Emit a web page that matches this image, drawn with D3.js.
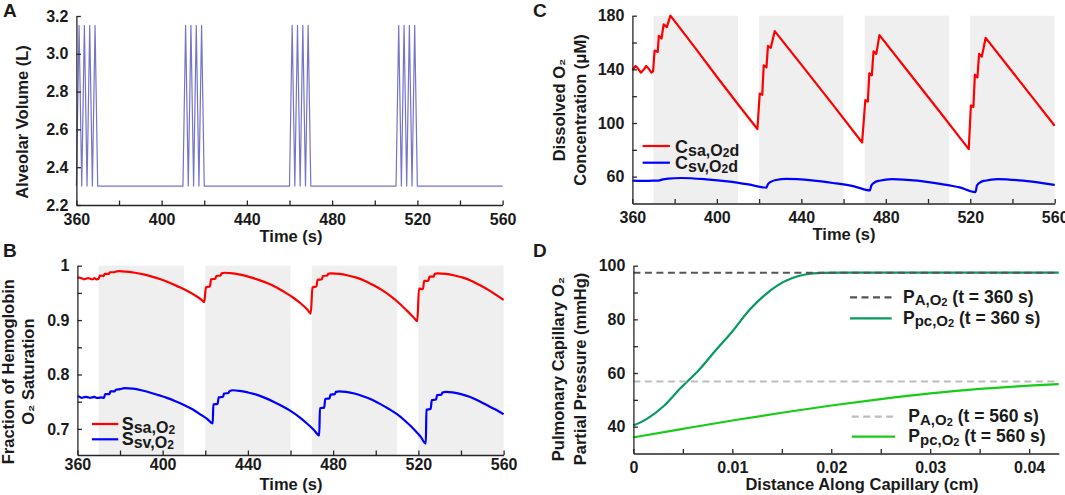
<!DOCTYPE html>
<html>
<head>
<meta charset="utf-8">
<script src="https://cdn.jsdelivr.net/npm/d3@7"></script>
<style>
  body { margin: 0; background: #fff; }
  text { font-family: "Liberation Sans", Arial, sans-serif; font-weight: bold; fill: #1a1a1a; }
</style>
</head>
<body>
<svg id="fig" width="1065" height="495"></svg>
<script>
// ---- data ----
var shadeStart = [370, 420, 470, 520],
    shadeEnd = [410, 460, 510, 560];

// A: alveolar volume (L)
var volTime = [360, 361.25, 362.5, 363.75, 365, 366.25, 367.5, 368.75, 370,
    410, 411.25, 412.5, 413.75, 415, 416.25, 417.5, 418.75, 420,
    460, 461.25, 462.5, 463.75, 465, 466.25, 467.5, 468.75, 470,
    510, 511.25, 512.5, 513.75, 515, 516.25, 517.5, 518.75, 520, 560];
var volValue = [2.3, 3.15, 2.3, 3.15, 2.3, 3.15, 2.3, 3.15, 2.3,
    2.3, 3.15, 2.3, 3.15, 2.3, 3.15, 2.3, 3.15, 2.3,
    2.3, 3.15, 2.3, 3.15, 2.3, 3.15, 2.3, 3.15, 2.3,
    2.3, 3.15, 2.3, 3.15, 2.3, 3.15, 2.3, 3.15, 2.3, 2.3];

// B: hemoglobin O2 saturation, arterial (sa) and venous (sv)
var saTime = [360, 361, 362, 363, 364, 365, 366, 367, 368, 369, 370,
    370.5, 372.3, 372.8, 374.8, 375.3, 377.3, 377.8, 379.5,
    383, 387, 391, 395, 399, 403, 407, 411, 415, 418, 419.5,
    420.3, 422.2, 422.7, 424.7, 425.2, 427.2, 427.7, 429,
    433, 437, 441, 445, 449, 453, 457, 461, 465, 468, 469.5,
    470.3, 472.2, 472.7, 474.7, 475.2, 477.2, 477.7, 479,
    483, 487, 491, 495, 499, 503, 507, 511, 515, 518, 519.5,
    520.3, 522.2, 522.7, 524.7, 525.2, 527.2, 527.7, 529,
    533, 537, 541, 545, 549, 553, 557, 560];
var saValue = [0.978, 0.978, 0.977, 0.975, 0.976, 0.977, 0.976, 0.975, 0.977, 0.975, 0.976,
    0.982, 0.981, 0.985, 0.985, 0.988, 0.988, 0.989, 0.990,
    0.989, 0.987, 0.984, 0.980, 0.975, 0.969, 0.962, 0.955, 0.946, 0.938, 0.933,
    0.960, 0.962, 0.975, 0.976, 0.981, 0.982, 0.986, 0.987,
    0.986, 0.983, 0.979, 0.974, 0.968, 0.961, 0.952, 0.942, 0.930, 0.919, 0.912,
    0.960, 0.962, 0.974, 0.975, 0.981, 0.982, 0.985, 0.986,
    0.985, 0.982, 0.978, 0.972, 0.964, 0.955, 0.944, 0.931, 0.916, 0.904, 0.898,
    0.958, 0.957, 0.972, 0.972, 0.980, 0.980, 0.985, 0.986,
    0.985, 0.982, 0.978, 0.972, 0.964, 0.955, 0.945, 0.937];
var svTime = [360, 361, 362, 363, 364, 365, 366, 367, 368, 369, 370, 371, 372.5,
    373, 375, 375.5, 377.5, 378, 380, 382,
    386, 390, 394, 398, 402, 406, 410, 414, 418, 421, 423.5,
    423.8, 425.8, 426.3, 428.3, 428.8, 430.8, 431.3, 433,
    436, 440, 444, 448, 452, 456, 460, 464, 468, 471, 473.5,
    473.8, 475.8, 476.3, 478.3, 478.8, 480.8, 481.3, 483,
    486, 490, 494, 498, 502, 506, 510, 514, 518, 521, 523.5,
    523.8, 525.8, 526.3, 528.3, 528.8, 530.8, 531.3, 533,
    536, 540, 544, 548, 552, 556, 560];
var svValue = [0.760, 0.759, 0.757, 0.758, 0.759, 0.758, 0.757, 0.758, 0.759, 0.757, 0.757, 0.758, 0.757,
    0.764, 0.764, 0.769, 0.769, 0.772, 0.773, 0.775,
    0.774, 0.771, 0.767, 0.762, 0.757, 0.751, 0.744, 0.736, 0.726, 0.718, 0.710,
    0.745, 0.746, 0.758, 0.759, 0.765, 0.766, 0.769, 0.771,
    0.770, 0.767, 0.763, 0.757, 0.750, 0.742, 0.733, 0.722, 0.709, 0.698, 0.688,
    0.738, 0.739, 0.755, 0.756, 0.763, 0.764, 0.768, 0.769,
    0.768, 0.765, 0.760, 0.754, 0.746, 0.737, 0.727, 0.714, 0.699, 0.686, 0.673,
    0.735, 0.737, 0.753, 0.754, 0.762, 0.763, 0.767, 0.768,
    0.767, 0.764, 0.759, 0.752, 0.744, 0.736, 0.727];

// C: dissolved O2 concentration (uM)
var caTime = [360, 361.5, 362.5, 364, 365.5, 366.5, 367.5, 369, 369.8,
    370.5, 372, 372.5, 373.8, 374.8, 376.3, 378,
    390, 400, 410, 419.2,
    420.3, 421.5, 422.2, 423.5, 424.2, 425.5, 427.4,
    440, 455, 468.8,
    470.3, 471.5, 472.2, 473.4, 474.2, 475.5, 477,
    490, 505, 519.3,
    520.3, 521.5, 522.2, 523.4, 524.2, 525.5, 527.3,
    540, 550, 560];
var caValue = [139.5, 142.5, 141, 137.5, 140, 142.5, 141, 137.5, 138.5,
    154, 153, 165, 163, 173.5, 171.5, 180,
    155.5, 134.5, 114, 95.5,
    122, 121, 143, 141.5, 157.5, 156, 168.5,
    143.5, 113.5, 85.5,
    117, 116, 137, 135.5, 153.5, 151.5, 165.5,
    139.5, 109.5, 80.5,
    113, 112, 136, 134, 151.5, 149.5, 163.5,
    138, 118, 98];
var cvTime = [360, 365, 370, 372, 374, 377, 383, 395, 405, 415, 423.5,
    424.2, 426, 428, 433, 445, 455, 465, 472.5,
    473.2, 475, 477, 483, 495, 505, 515, 522.5,
    523.2, 525, 527, 533, 545, 555, 560];
var cvValue = [57, 56.8, 57, 57, 57.8, 58.5, 59, 58, 56.5, 54.2, 51.8,
    54.5, 56.5, 57.5, 58.3, 57.2, 55.3, 52.8, 49.8,
    53.5, 56, 57, 58.2, 57, 54.8, 52, 48.5,
    53.5, 56, 57, 58.2, 57, 55, 53.8];

// D: pulmonary capillary O2 partial pressure (mmHg) vs distance (cm)
var distFast = [0, 0.0014, 0.0031, 0.0048, 0.0066, 0.0083, 0.01, 0.0117, 0.0131, 0.0145, 0.016, 0.0175, 0.019, 0.021, 0.025, 0.043];
var ppc360 = [40.4, 43.0, 47.8, 54.5, 61, 68.4, 75.5, 83.4, 88.5, 92.5, 95.3, 96.8, 97.3, 97.4, 97.4, 97.4];
var distSlow = [0, 0.005, 0.01, 0.015, 0.02, 0.025, 0.03, 0.035, 0.04, 0.043];
var ppc560 = [36, 39.2, 42.3, 45.2, 47.9, 50.3, 52.4, 54.1, 55.3, 55.9];
var pA360 = 97.4, pA560 = 56.85;

var timeTicks = [360, 380, 400, 420, 440, 460, 480, 500, 520, 540, 560],
    timeLabels = [360, 400, 440, 480, 520, 560];

// ---- drawing ----
var svg = d3.select("#fig");
svg.append("rect").attr("width", 1065).attr("height", 495).attr("fill", "#fff");

var axisColor = "#262626";

function only(labels, fmt) {
    return function (d) {
        return labels.some(function (l) { return Math.abs(l - d) < 1e-9; }) ? fmt(d) : "";
    };
}

function drawAxes(x, y, o) {
    var gx = svg.append("g")
        .attr("transform", "translate(0," + y.range()[0] + ")")
        .call(d3.axisBottom(x).tickValues(o.xTicks).tickSizeInner(-4.5).tickSizeOuter(0)
            .tickPadding(o.xPad).tickFormat(only(o.xLabels, o.xFmt)));
    var gy = svg.append("g")
        .attr("transform", "translate(" + x.range()[0] + ",0)")
        .call(d3.axisLeft(y).tickValues(o.yTicks).tickSizeInner(-4.5).tickSizeOuter(0)
            .tickPadding(8).tickFormat(only(o.yLabels, o.yFmt)));
    [gx, gy].forEach(function (g) {
        g.attr("font-size", 16).attr("font-family", null);
        g.selectAll("path, line").attr("stroke", axisColor).attr("stroke-width", 1.3);
    });
}

function yLabel(lines, xs, cy) {
    lines.forEach(function (t, i) {
        svg.append("text")
            .attr("transform", "translate(" + xs[i] + "," + cy + ") rotate(-90)")
            .attr("text-anchor", "middle")
            .attr("font-size", 16.5)
            .text(t);
    });
}

function xLabel(t, cx, by) {
    svg.append("text").attr("x", cx).attr("y", by)
        .attr("text-anchor", "middle").attr("font-size", 16.5).text(t);
}

// parts: [text, size, dy]
function richText(x, y, parts) {
    var t = svg.append("text").attr("x", x).attr("y", y);
    parts.forEach(function (p) {
        t.append("tspan").attr("font-size", p[1]).attr("dy", p[2]).text(p[0]);
    });
}

function shading(x, y) {
    svg.append("g").selectAll("rect")
        .data(shadeStart)
        .enter().append("rect")
        .attr("x", function (d) { return x(d); })
        .attr("width", function (d, i) { return x(shadeEnd[i]) - x(d); })
        .attr("y", y.range()[1])
        .attr("height", y.range()[0] - y.range()[1])
        .attr("fill", "#efefef");
}

function trace(x, y, xs, ys, color, width, curve) {
    var line = d3.line()
        .x(function (d) { return x(d[0]); })
        .y(function (d) { return y(d[1]); })
        .curve(curve || d3.curveMonotoneX);
    svg.append("path").datum(d3.zip(xs, ys))
        .attr("d", line)
        .attr("fill", "none")
        .attr("stroke", color)
        .attr("stroke-width", width)
        .attr("stroke-linejoin", "round");
}

function legendLine(x1, x2, y, color, dash) {
    svg.append("line").attr("x1", x1).attr("x2", x2).attr("y1", y).attr("y2", y)
        .attr("stroke", color).attr("stroke-width", 2.2)
        .attr("stroke-dasharray", dash || null);
}

// Panel A
var xA = d3.scaleLinear().domain([360, 560]).range([76.4, 502.6]);
var yA = d3.scaleLinear().domain([2.2, 3.2]).range([205, 16]);
trace(xA, yA, volTime, volValue, "#7474c8", 1.2, d3.curveLinear);
drawAxes(xA, yA, {
    xTicks: timeTicks, xLabels: timeLabels, xPad: 8.3, xFmt: d3.format("d"),
    yTicks: [2.2, 2.4, 2.6, 2.8, 3.0, 3.2], yLabels: [2.2, 2.4, 2.6, 2.8, 3.0, 3.2], yFmt: d3.format(".1f")
});
yLabel(["Alveolar Volume (L)"], [28], 122);
xLabel("Time (s)", 291, 241.5);

// Panel B
var xB = d3.scaleLinear().domain([360, 560]).range([77.4, 503.6]);
var yB = d3.scaleLinear().domain([0.652, 1]).range([455, 265.7]);
shading(xB, yB);
trace(xB, yB, saTime, saValue, "#ff0000", 2.2);
trace(xB, yB, svTime, svValue, "#0000ff", 2.2);
drawAxes(xB, yB, {
    xTicks: timeTicks, xLabels: timeLabels, xPad: 3.4, xFmt: d3.format("d"),
    yTicks: [0.7, 0.75, 0.8, 0.85, 0.9, 0.95, 1], yLabels: [0.7, 0.8, 0.9, 1], yFmt: d3.format(".1~f")
});
yLabel(["Fraction of Hemoglobin", "O\u2082 Saturation"], [14, 34], 371.7);
xLabel("Time (s)", 291, 489.5);
legendLine(91.9, 118.3, 424, "#ff0000");
legendLine(91.9, 118.3, 439.3, "#0000ff");
richText(121.7, 429.5, [["S", 18, 0], ["sa,O", 16, 3], ["2", 12, 1]]);
richText(121.7, 444.8, [["S", 18, 0], ["sv,O", 16, 3], ["2", 12, 1]]);

// Panel C
var xC = d3.scaleLinear().domain([360, 560]).range([632.4, 1054.7]);
var yC = d3.scaleLinear().domain([40, 180]).range([203.5, 15.7]);
shading(xC, yC);
trace(xC, yC, caTime, caValue, "#ff0000", 2.2, d3.curveLinear);
trace(xC, yC, cvTime, cvValue, "#0000ff", 2.2);
drawAxes(xC, yC, {
    xTicks: timeTicks, xLabels: timeLabels, xPad: 8.5, xFmt: d3.format("d"),
    yTicks: [60, 80, 100, 120, 140, 160, 180], yLabels: [60, 100, 140, 180], yFmt: d3.format("d")
});
yLabel(["Dissolved O\u2082", "Concentration (\u03bcM)"], [565, 586], 110);
xLabel("Time (s)", 844, 240);
legendLine(642.6, 669.9, 146, "#ff0000");
legendLine(642.6, 669.9, 162.7, "#0000ff");
richText(675, 152.5, [["C", 18, 0], ["sa,O", 16, 3], ["2", 12, 1], ["d", 16, -1]]);
richText(675, 169.2, [["C", 18, 0], ["sv,O", 16, 3], ["2", 12, 1], ["d", 16, -1]]);

// Panel D
var xD = d3.scaleLinear().domain([0, 0.043]).range([633.4, 1058.8]);
var yD = d3.scaleLinear().domain([30, 100]).range([453.5, 265.7]);
trace(xD, yD, distFast, ppc360, "#079a5f", 2.2);
trace(xD, yD, distSlow, ppc560, "#16cc16", 2.2);
[[pA360, "#555555"], [pA560, "#bdbdbd"]].forEach(function (p) {
    svg.append("line")
        .attr("x1", xD(0)).attr("x2", xD(0.043))
        .attr("y1", yD(p[0])).attr("y2", yD(p[0]))
        .attr("stroke", p[1]).attr("stroke-width", 2)
        .attr("stroke-dasharray", "7,4.5");
});
drawAxes(xD, yD, {
    xTicks: [0, 0.005, 0.01, 0.015, 0.02, 0.025, 0.03, 0.035, 0.04], xLabels: [0, 0.01, 0.02, 0.03, 0.04],
    xPad: 8, xFmt: d3.format(".2~f"),
    yTicks: [40, 50, 60, 70, 80, 90, 100], yLabels: [40, 60, 80, 100], yFmt: d3.format("d")
});
yLabel(["Pulmonary Capillary O\u2082", "Partial Pressure (mmHg)"], [564, 586], 369);
xLabel("Distance Along Capillary (cm)", 862, 489.5);
legendLine(850, 891.7, 297.3, "#555555", "7,4.5");
legendLine(850, 891.7, 318.3, "#079a5f");
legendLine(851.7, 895, 416.7, "#bdbdbd", "7,4.5");
legendLine(851.7, 895, 436.7, "#16cc16");
richText(903, 302.5, [["P", 17.5, 0], ["A,O", 15, 2.5], ["2", 11, 1], [" (t = 360 s)", 17.5, -3.5]]);
richText(903, 323.5, [["P", 17.5, 0], ["pc,O", 15, 2.5], ["2", 11, 1], [" (t = 360 s)", 17.5, -3.5]]);
richText(908.3, 422, [["P", 17.5, 0], ["A,O", 15, 2.5], ["2", 11, 1], [" (t = 560 s)", 17.5, -3.5]]);
richText(908.3, 442, [["P", 17.5, 0], ["pc,O", 15, 2.5], ["2", 11, 1], [" (t = 560 s)", 17.5, -3.5]]);

// panel letters
[["A", 3, 16.7], ["B", 3, 256.7], ["C", 533, 16.7], ["D", 533, 256.7]].forEach(function (l) {
    svg.append("text").attr("x", l[1]).attr("y", l[2]).attr("font-size", 19).attr("fill", "#000").text(l[0]);
});
</script>
</body>
</html>
